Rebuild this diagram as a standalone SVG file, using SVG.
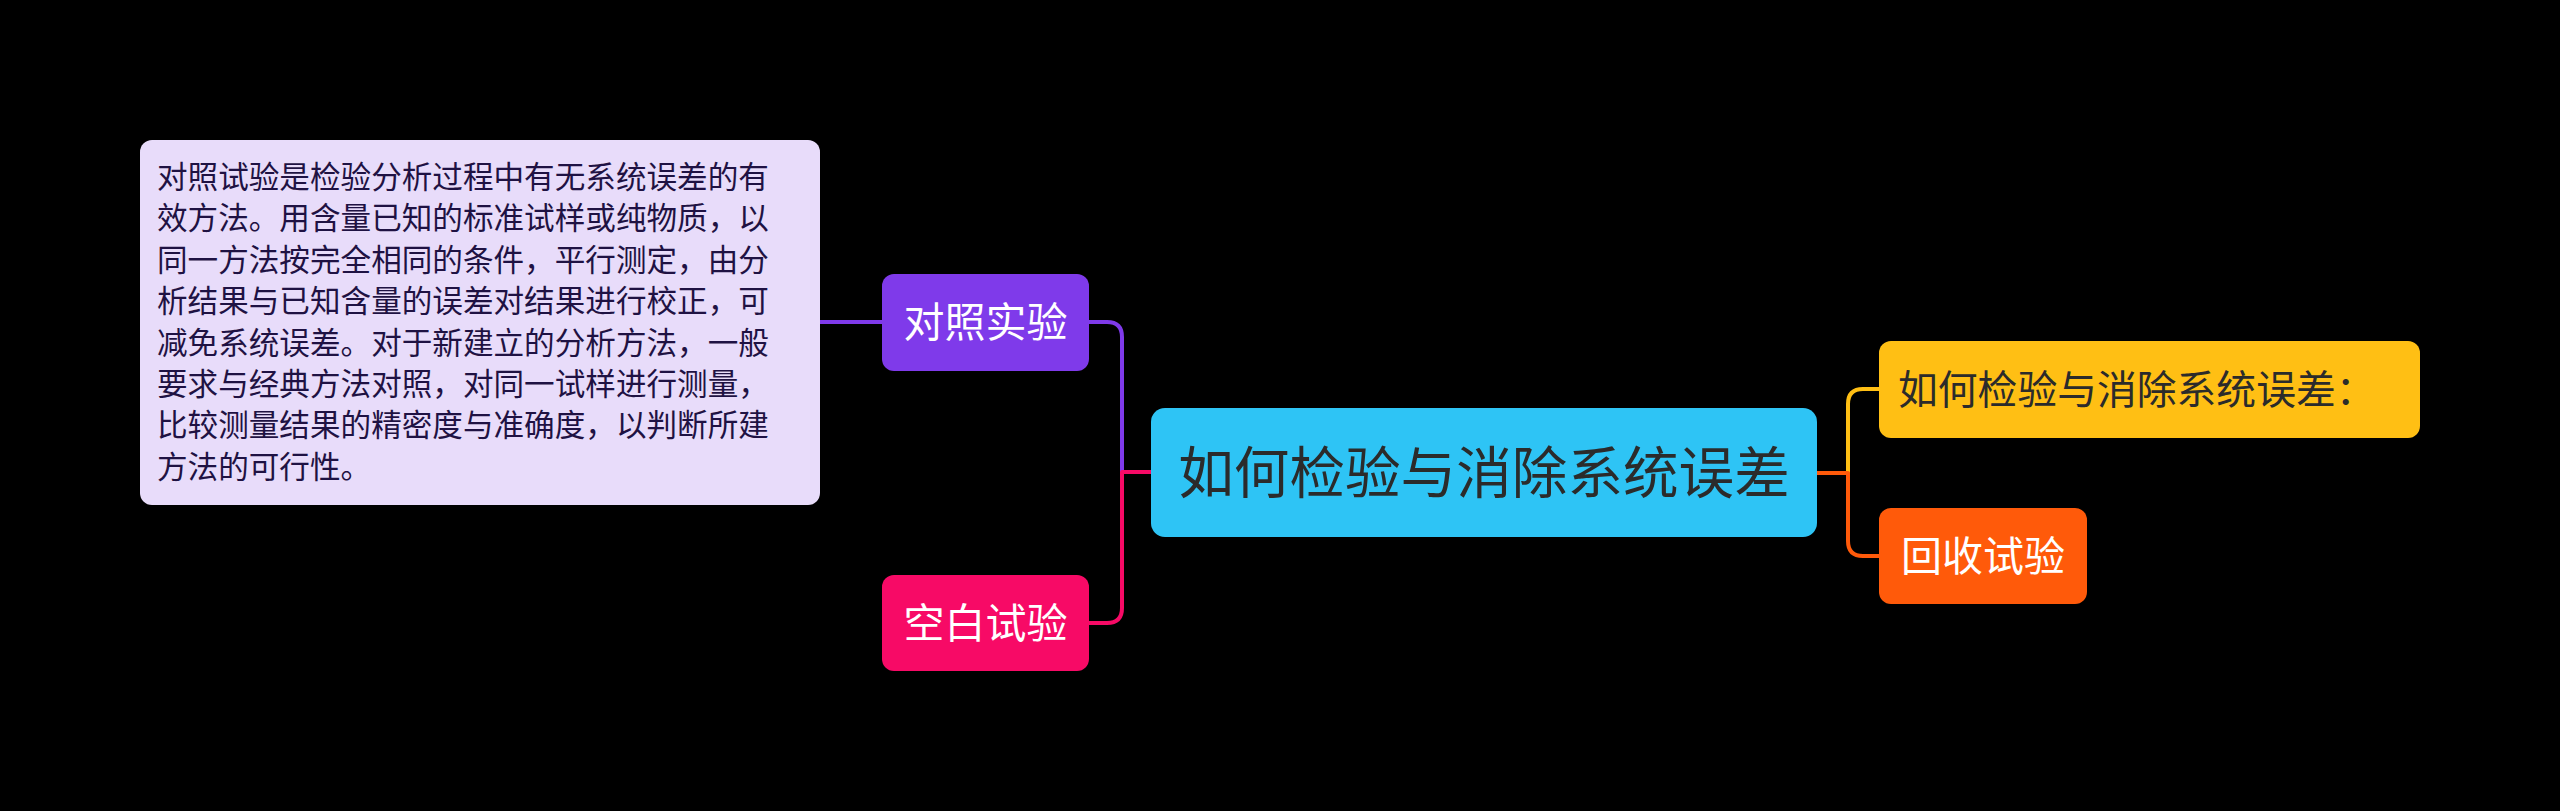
<svg xmlns="http://www.w3.org/2000/svg" width="2560" height="811" viewBox="0 0 2560 811">
<style>
.t{font-family:"Noto Sans CJK SC","Noto Sans",sans-serif}
.c{fill:none;stroke-width:4;stroke-linecap:round;stroke-linejoin:round}
</style>
<rect x="0" y="0" width="2560" height="811" fill="#000"/>
<g id="connectors">
<path class="c" stroke="#7f3aea" d="M882 322 H820"/>
<path class="c" stroke="#7f3aea" d="M1089 322 H1107 Q1122 322 1122 337 V472"/>
<path class="c" stroke="#f70a66" d="M1151 472 H1122 V608 Q1122 623 1107 623 H1089"/>
<path class="c" stroke="#ffbf14" d="M1848 472 V404 Q1848 389 1863 389 H1879"/>
<path class="c" stroke="#ff5a0a" d="M1817 473 H1848 V541 Q1848 556 1863 556 H1879"/>
</g>
<g id="desc">
<rect x="140" y="140" width="680" height="365" rx="12" fill="#e8dcfa"/>
<g class="t" font-size="30.6" fill="#1f1243">
<text x="157" y="188">对照试验是检验分析过程中有无系统误差的有</text>
<text x="157" y="229.4">效方法。用含量已知的标准试样或纯物质，以</text>
<text x="157" y="270.8">同一方法按完全相同的条件，平行测定，由分</text>
<text x="157" y="312.2">析结果与已知含量的误差对结果进行校正，可</text>
<text x="157" y="353.6">减免系统误差。对于新建立的分析方法，一般</text>
<text x="157" y="395">要求与经典方法对照，对同一试样进行测量，</text>
<text x="157" y="436.4">比较测量结果的精密度与准确度，以判断所建</text>
<text x="157" y="477.8">方法的可行性。</text>
</g>
</g>
<g id="n1">
<rect x="882" y="274" width="207" height="97" rx="12" fill="#7f3aea"/>
<text class="t" x="985.5" y="337" font-size="41" fill="#fff" text-anchor="middle">对照实验</text>
</g>
<g id="n2">
<rect x="882" y="575" width="207" height="96" rx="12" fill="#f70a66"/>
<text class="t" x="985.5" y="638" font-size="41" fill="#fff" text-anchor="middle">空白试验</text>
</g>
<g id="root">
<rect x="1151" y="408" width="666" height="129" rx="14" fill="#2ec4f5"/>
<text class="t" x="1484" y="493" font-size="55.6" fill="#2b2b2b" text-anchor="middle">如何检验与消除系统误差</text>
</g>
<g id="n3">
<rect x="1879" y="341" width="541" height="97" rx="12" fill="#ffbf14"/>
<text class="t" x="1898" y="404" font-size="39.8" fill="#2b2b2b">如何检验与消除系统误差：</text>
</g>
<g id="n4">
<rect x="1879" y="508" width="208" height="96" rx="12" fill="#ff5a0a"/>
<text class="t" x="1983" y="571" font-size="41" fill="#fff" text-anchor="middle">回收试验</text>
</g>
</svg>
